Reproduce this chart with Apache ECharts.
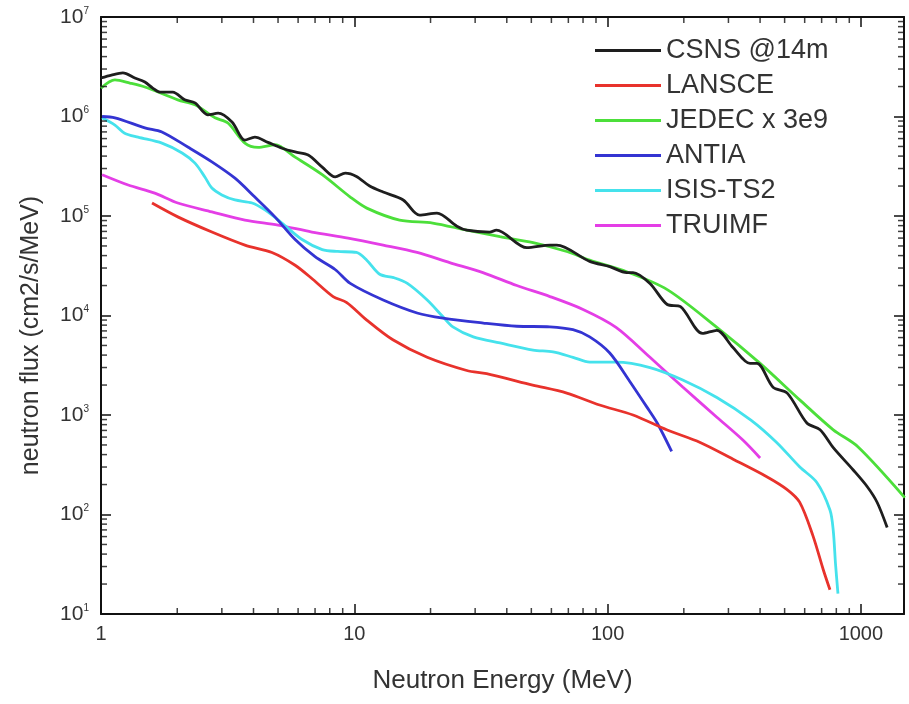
<!DOCTYPE html>
<html>
<head>
<meta charset="utf-8">
<script src="https://cdn.jsdelivr.net/npm/echarts@6/dist/echarts.min.js"></script>
<style>
  html, body { margin: 0; padding: 0; background: #fff; }
  #main { width: 909px; height: 704px; }
</style>
</head>
<body>
<div id="main"></div>
<script>
// energies in MeV, fluxes in cm2/s/MeV
var csnsE = [1.0, 1.1, 1.22, 1.36, 1.49, 1.6, 1.71, 1.92, 2.14, 2.35, 2.64, 2.9, 3.29, 3.7, 4.05, 4.56, 5.19, 5.84, 6.58, 7.47, 8.41, 9.21, 10.2, 11.5, 13.0, 15.6, 18.1, 21.2, 25.4, 27.8, 34.2, 36.4, 48, 59.3, 63, 85, 102, 119, 126, 147, 172, 194, 237, 270, 312, 365, 389, 450, 512, 612, 690, 778, 933, 1060, 1160, 1270];
var csnsF = [2.44e6, 2.61e6, 2.74e6, 2.44e6, 2.22e6, 1.93e6, 1.76e6, 1.76e6, 1.47e6, 1.37e6, 1.04e6, 1.08e6, 8.8e5, 5.8e5, 6.2e5, 5.5e5, 4.8e5, 4.4e5, 4.1e5, 3.1e5, 2.47e5, 2.7e5, 2.5e5, 2.0e5, 1.74e5, 1.45e5, 1.02e5, 1.07e5, 7.9e4, 7.2e4, 6.9e4, 7.2e4, 4.8e4, 5.1e4, 5.1e4, 3.5e4, 3.1e4, 2.7e4, 2.7e4, 2.1e4, 1.29e4, 1.23e4, 6.6e3, 7.1e3, 4.8e3, 3.3e3, 3.3e3, 1.9e3, 1.66e3, 8.3e2, 7.1e2, 4.7e2, 2.8e2, 1.9e2, 1.32e2, 74];

var lansceE = [1.59, 2.01, 2.74, 3.7, 4.73, 5.84, 6.87, 8.25, 9.34, 11.2, 14.2, 19.4, 27.8, 33.3, 50.6, 69, 93, 126, 171, 232, 313, 425, 510, 573, 647, 710, 755];
var lansceF = [1.35e5, 9.8e4, 6.9e4, 5.1e4, 4.3e4, 3.2e4, 2.3e4, 1.55e4, 1.35e4, 9.0e3, 5.7e3, 3.8e3, 2.8e3, 2.6e3, 2.0e3, 1.66e3, 1.26e3, 1.0e3, 7.1e2, 5.3e2, 3.6e2, 2.4e2, 1.79e2, 1.33e2, 61, 28, 17.5];

var jedecE = [1.0, 1.135, 1.3, 1.49, 2.01, 2.35, 2.82, 3.17, 3.7, 4.17, 4.86, 5.84, 7.47, 9.64, 11.2, 15.1, 20.4, 27.8, 37.6, 50.8, 69, 85, 119, 172, 270, 400, 575, 778, 973, 1490];
var jedecF = [1.93e6, 2.33e6, 2.17e6, 1.98e6, 1.47e6, 1.31e6, 9.7e5, 8.6e5, 5.4e5, 4.9e5, 5.2e5, 3.9e5, 2.6e5, 1.55e5, 1.2e5, 9.1e4, 8.5e4, 7.2e4, 6.2e4, 5.4e4, 4.4e4, 3.6e4, 2.75e4, 1.82e4, 7.6e3, 3.3e3, 1.41e3, 7.1e2, 4.8e2, 1.48e2];

var antiaE = [1.01, 1.135, 1.49, 1.74, 2.21, 2.74, 3.38, 4.05, 4.86, 5.84, 7.0, 8.4, 9.64, 13.0, 17.7, 22.4, 32.3, 43.8, 59.2, 73, 85, 102, 122, 143, 157, 179];
var antiaF = [1.0e6, 9.7e5, 7.7e5, 7.0e5, 4.9e5, 3.5e5, 2.4e5, 1.55e5, 9.8e4, 5.8e4, 3.9e4, 2.9e4, 2.1e4, 1.43e4, 1.06e4, 9.4e3, 8.4e3, 7.8e3, 7.7e3, 7.2e3, 6.1e3, 4.2e3, 2.2e3, 1.2e3, 8.3e2, 4.3e2];

var isisE = [1.01, 1.135, 1.24, 1.4, 1.74, 2.09, 2.35, 2.57, 2.74, 3.0, 3.38, 3.95, 4.44, 5.18, 6.22, 7.47, 8.6, 10.2, 11.2, 12.6, 14.3, 16.2, 19.4, 22.4, 24.5, 29.5, 37.6, 50.8, 60.9, 73, 85, 108, 147, 198, 270, 368, 465, 574, 670, 755, 778, 794, 812];
var isisF = [9.7e5, 8.2e5, 6.8e5, 6.2e5, 5.4e5, 4.3e5, 3.4e5, 2.47e5, 1.91e5, 1.63e5, 1.45e5, 1.35e5, 1.15e5, 8.5e4, 5.8e4, 4.6e4, 4.4e4, 4.3e4, 3.6e4, 2.6e4, 2.4e4, 2.1e4, 1.43e4, 9.7e3, 7.7e3, 6.1e3, 5.3e3, 4.5e3, 4.3e3, 3.8e3, 3.4e3, 3.4e3, 3.0e3, 2.25e3, 1.5e3, 8.9e2, 5.3e2, 3.0e2, 2.1e2, 1.11e2, 69, 32, 16];

var truimfE = [1.01, 1.28, 1.63, 2.01, 2.74, 3.7, 5.0, 6.8, 9.45, 13.0, 17.7, 23.8, 32.2, 43.8, 59.2, 80, 108, 147, 198, 270, 342, 400];
var truimfF = [2.6e5, 2.05e5, 1.7e5, 1.35e5, 1.1e5, 9.1e4, 8.1e4, 6.9e4, 6.0e4, 5.1e4, 4.3e4, 3.4e4, 2.7e4, 2.0e4, 1.55e4, 1.15e4, 7.6e3, 3.8e3, 1.91e3, 9.5e2, 5.6e2, 3.7e2];

var seriesNames = ['CSNS @14m', 'LANSCE', 'JEDEC x 3e9', 'ANTIA', 'ISIS-TS2', 'TRUIMF'];
var seriesColors = ['#1e1e1e', '#e8322c', '#4cdf3a', '#3434d2', '#45e2ec', '#e43ee6'];

var xTickLabels = ['1', '10', '100', '1000'];
var yTickExps = [1, 2, 3, 4, 5, 6, 7];
var xMin = 1, xMax = 1480, yMin = 10, yMax = 1e7;

function zip(xs, ys) {
  return xs.map(function (x, i) { return [x, ys[i]]; });
}
var allData = [
  zip(csnsE, csnsF), zip(lansceE, lansceF), zip(jedecE, jedecF),
  zip(antiaE, antiaF), zip(isisE, isisF), zip(truimfE, truimfF)
];

// minor ticks 2..9 per decade, placed on all four sides of the box
var minorXBottom = [], minorXTop = [], minorYLeft = [], minorYRight = [];
for (var k = 0; k < 4; k++) {
  for (var m = 2; m < 10; m++) {
    var v = m * Math.pow(10, k);
    if (v < xMax) {
      minorXBottom.push([v, yMin]);
      minorXTop.push([v, yMax]);
    }
  }
}
for (var k2 = 1; k2 < 7; k2++) {
  for (var m2 = 2; m2 < 10; m2++) {
    var w = m2 * Math.pow(10, k2);
    minorYLeft.push([xMin, w]);
    minorYRight.push([xMax, w]);
  }
}

var axisColor = '#111';
var minorLen = 6;

function tickSeries(data, size, offset) {
  return {
    type: 'scatter',
    xAxisIndex: 0,
    yAxisIndex: 0,
    data: data,
    symbol: 'rect',
    symbolSize: size,
    symbolOffset: offset,
    itemStyle: { color: axisColor },
    silent: true,
    clip: false,
    z: 20
  };
}

var myChart = echarts.init(document.getElementById('main'));

var labelFont = 'Liberation Sans, Arial, sans-serif';

function xAxisDef(pos, showLabel) {
  return {
    type: 'log',
    logBase: 10,
    min: xMin,
    max: xMax,
    position: pos,
    axisLine: { show: true, onZero: false, lineStyle: { color: axisColor, width: 2 } },
    axisTick: { show: true, inside: true, length: 10, lineStyle: { color: axisColor, width: 1.5 } },
    splitLine: { show: false },
    axisLabel: {
      show: showLabel,
      fontFamily: labelFont,
      fontSize: 20,
      color: '#333',
      margin: 10,
      formatter: function (val) {
        var s = String(Math.round(val));
        return xTickLabels.indexOf(s) >= 0 && Math.abs(val - Math.round(val)) < 1e-6 ? s : '';
      }
    }
  };
}

function yAxisDef(pos, showLabel) {
  return {
    type: 'log',
    logBase: 10,
    min: yMin,
    max: yMax,
    splitNumber: 6,
    position: pos,
    axisLine: { show: true, onZero: false, lineStyle: { color: axisColor, width: 2 } },
    axisTick: { show: true, inside: true, length: 10, lineStyle: { color: axisColor, width: 1.5 } },
    splitLine: { show: false },
    axisLabel: {
      show: showLabel,
      margin: 12,
      formatter: function (val) {
        var n = Math.round(Math.log10(val));
        if (yTickExps.indexOf(n) < 0) return '';
        return '{b|10}{s|' + n + '}';
      },
      rich: {
        b: { fontFamily: labelFont, fontSize: 21, color: '#333', lineHeight: 22 },
        s: { fontFamily: labelFont, fontSize: 10, color: '#333', verticalAlign: 'top', lineHeight: 11 }
      }
    }
  };
}

var xBottom = xAxisDef('bottom', true);
xBottom.name = 'Neutron Energy (MeV)';
xBottom.nameLocation = 'middle';
xBottom.nameGap = 54;
xBottom.nameTextStyle = { fontFamily: labelFont, fontSize: 26, color: '#333' };

var yLeft = yAxisDef('left', true);
yLeft.name = 'neutron flux (cm2/s/MeV)';
yLeft.nameLocation = 'middle';
yLeft.nameGap = 57;
yLeft.nameTextStyle = { fontFamily: labelFont, fontSize: 25, color: '#333', padding: [0, 40, 0, 0] };

var lineSeries = seriesNames.map(function (name, i) {
  return {
    name: name,
    type: 'line',
    xAxisIndex: 0,
    yAxisIndex: 0,
    data: allData[i],
    showSymbol: false,
    symbol: 'none',
    smooth: 0.3,
    z: 10 - i,
    lineStyle: { color: seriesColors[i], width: 2.8 },
    itemStyle: { color: seriesColors[i] }
  };
});

var option = {
  backgroundColor: '#fff',
  animation: false,
  grid: { left: 101, right: 5, top: 17, bottom: 90, containLabel: false },
  legend: {
    data: seriesNames,
    orient: 'vertical',
    left: 590,
    top: 32,
    icon: 'rect',
    itemWidth: 66,
    itemHeight: 3,
    itemGap: 8,
    textStyle: { fontFamily: labelFont, fontSize: 27, color: '#333', lineHeight: 26, padding: [0, 0, 0, 0] }
  },
  xAxis: [xBottom, xAxisDef('top', false)],
  yAxis: [yLeft, yAxisDef('right', false)],
  series: lineSeries.concat([
    tickSeries(minorXBottom, [1.5, minorLen], [0, -minorLen / 2]),
    tickSeries(minorXTop, [1.5, minorLen], [0, minorLen / 2]),
    tickSeries(minorYLeft, [minorLen, 1.5], [minorLen / 2, 0]),
    tickSeries(minorYRight, [minorLen, 1.5], [-minorLen / 2, 0])
  ])
};

myChart.setOption(option);
</script>
</body>
</html>
